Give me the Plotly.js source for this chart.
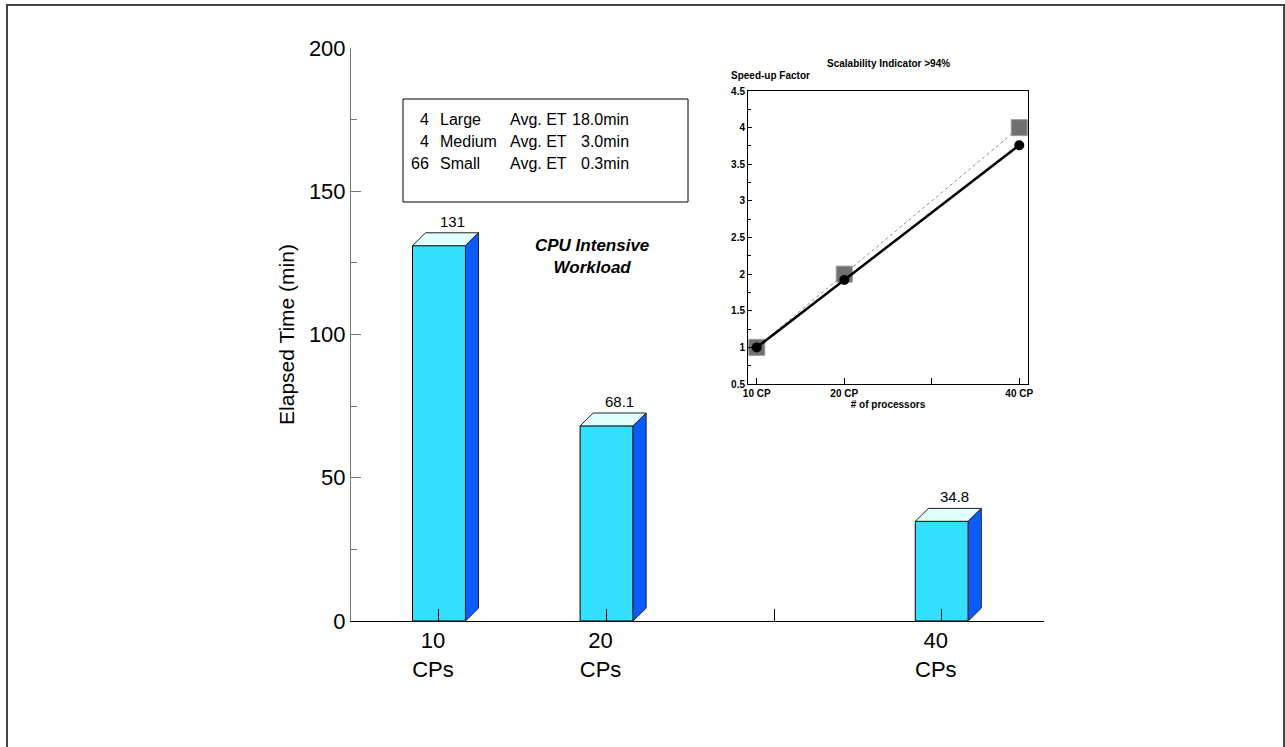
<!DOCTYPE html>
<html><head><meta charset="utf-8">
<script src="https://cdn.plot.ly/plotly-3.0.1.min.js"></script>
<style>body{margin:0;background:#fff}</style>
</head><body><div id="chart" style="width:1285px;height:747px"></div>
<script>
// ---- data ----
const processors = [10, 20, 40];
const categoryLabels = ['10<br>CPs', '20<br>CPs', '40<br>CPs'];
const elapsedTime = [131, 68.1, 34.8];
const elapsedLabels = ['131', '68.1', '34.8'];
const insetProcessors = [10, 20, 40];
const insetTickLabels = ['10 CP', '20 CP', '40 CP'];
const idealSpeedup = [1, 2, 4];
const actualSpeedup = [1, 1.92, 3.76];
const jobCounts = ['4', '4', '66'];
const jobSizes = ['Large', 'Medium', 'Small'];
const jobAvgET = ['18.0', '3.0', '0.3'];

// ---- geometry / style ----
const FONT = 'Liberation Sans, Arial, sans-serif';
const PL = 351, PR = 1044, PT = 48, PB = 621;
const px2x = p => (p - PL) / (PR - PL);
const px2y = p => (PB - p) / (PB - PT);
const W = 3.16, DX = 0.78, DY = 4.5;

const topX = [], topY = [], sideX = [], sideY = [];
processors.forEach((x, i) => {
  const v = elapsedTime[i], l = x - W / 2, r = x + W / 2;
  topX.push(l, r, r + DX, l + DX, l, null);
  topY.push(v, v, v + DY, v + DY, v, null);
  sideX.push(r, r + DX, r + DX, r, r, null);
  sideY.push(0, DY, v + DY, v, 0, null);
});

const allTicks = [10, 20, 30, 40];
const mainTickText = allTicks.map(t => { const k = processors.indexOf(t); return k >= 0 ? categoryLabels[k] : ''; });
const insetTickText = allTicks.map(t => { const k = insetProcessors.indexOf(t); return k >= 0 ? insetTickLabels[k] : ''; });

const traces = [
  { type: 'bar', x: processors, y: elapsedTime, width: W,
    marker: { color: '#33E0FF', line: { color: '#000', width: 1 } }, hoverinfo: 'y' },
  { type: 'scatter', x: topX, y: topY, mode: 'lines', fill: 'toself', fillcolor: '#E0FFFF',
    line: { color: '#222', width: 1 }, hoverinfo: 'skip' },
  { type: 'scatter', x: sideX, y: sideY, mode: 'lines', fill: 'toself', fillcolor: '#0A5CFF',
    line: { color: '#222', width: 1 }, hoverinfo: 'skip' },
  { type: 'scatter', x: insetProcessors, y: idealSpeedup, xaxis: 'x2', yaxis: 'y2', mode: 'lines+markers',
    line: { color: '#888', width: 1, dash: 'dot' },
    marker: { symbol: 'square', size: 16, color: '#707070', line: { color: '#9a9a9a', width: 1 } } },
  { type: 'scatter', x: insetProcessors, y: actualSpeedup, xaxis: 'x2', yaxis: 'y2', mode: 'lines+markers',
    line: { color: '#000', width: 2.5 },
    marker: { symbol: 'circle', size: 10, color: '#000' } }
];

const annotations = [];
processors.forEach((x, i) => {
  annotations.push({ x: x + DX, y: elapsedTime[i] + DY, xref: 'x', yref: 'y', text: elapsedLabels[i],
    showarrow: false, xanchor: 'center', yanchor: 'bottom', yshift: 1, font: { family: FONT, size: 15, color: '#000' } });
});
annotations.push({ x: px2x(592), y: px2y(256), xref: 'paper', yref: 'paper', text: 'CPU Intensive<br>Workload',
  showarrow: false, xanchor: 'center', yanchor: 'middle',
  font: { family: FONT, size: 17, color: '#000', weight: 'bold', style: 'italic' } });
const lineY = [119, 141, 163];
jobCounts.forEach((c, i) => {
  const f = { family: FONT, size: 16, color: '#000' };
  const y = px2y(lineY[i]);
  const base = { xref: 'paper', yref: 'paper', showarrow: false, yanchor: 'middle', font: f, y };
  annotations.push({ ...base, x: px2x(431), text: c, xanchor: 'right' });
  annotations.push({ ...base, x: px2x(438), text: jobSizes[i], xanchor: 'left' });
  annotations.push({ ...base, x: px2x(508), text: 'Avg. ET', xanchor: 'left' });
  annotations.push({ ...base, x: px2x(631), text: jobAvgET[i] + 'min', xanchor: 'right' });
});
const bold = { family: FONT, size: 10, color: '#000', weight: 'bold' };
annotations.push({ x: px2x(888), y: px2y(64), xref: 'paper', yref: 'paper', text: 'Scalability Indicator >94%',
  showarrow: false, xanchor: 'center', yanchor: 'middle', font: bold });
annotations.push({ x: px2x(729), y: px2y(75), xref: 'paper', yref: 'paper', text: 'Speed-up Factor',
  showarrow: false, xanchor: 'left', yanchor: 'middle', font: bold });

const layout = {
  width: 1285, height: 747,
  margin: { l: PL, r: 1285 - PR, t: PT, b: 747 - PB },
  paper_bgcolor: '#fff', plot_bgcolor: 'rgba(0,0,0,0)',
  showlegend: false,
  font: { family: FONT, color: '#000' },
  xaxis: { range: [4.75, 46.1], tickvals: allTicks, ticktext: mainTickText, ticks: 'inside', ticklen: 12,
    tickcolor: '#000', showline: true, linecolor: '#000', linewidth: 1, showgrid: false, zeroline: false,
    tickfont: { family: FONT, size: 22, color: '#000' }, ticklabelshift: -6 },
  yaxis: { range: [0, 200], tickvals: [0, 50, 100, 150, 200], ticks: 'inside', ticklen: 10, tickcolor: '#777',
    showline: true, linecolor: '#777', linewidth: 1, showgrid: false, zeroline: false,
    minor: { tickvals: [25, 75, 125, 175], ticks: 'inside', ticklen: 6, tickcolor: '#777' },
    tickfont: { family: FONT, size: 22, color: '#000' },
    title: { text: 'Elapsed Time (min)', font: { family: FONT, size: 21, color: '#000' }, standoff: 8 } },
  xaxis2: { domain: [px2x(748), px2x(1028)], anchor: 'y2', range: [9, 41], tickvals: allTicks, ticktext: insetTickText,
    ticks: 'inside', ticklen: 6, tickcolor: '#000', showline: true, mirror: true, linecolor: '#000', linewidth: 1,
    showgrid: false, zeroline: false, tickfont: bold,
    title: { text: '# of processors', font: bold, standoff: 2 } },
  yaxis2: { domain: [px2y(384), px2y(91)], anchor: 'x2', range: [0.5, 4.5], dtick: 0.5, tick0: 0.5,
    ticks: 'inside', ticklen: 4, tickcolor: '#000', showline: true, mirror: true, linecolor: '#000', linewidth: 1,
    showgrid: false, zeroline: false, tickfont: bold,
    minor: { dtick: 0.25, ticks: 'inside', ticklen: 3, tickcolor: '#000' } },
  shapes: [
    { type: 'rect', xref: 'paper', yref: 'paper', x0: px2x(403), x1: px2x(688), y0: px2y(202), y1: px2y(99),
      line: { color: '#000', width: 1 } },
    { type: 'rect', xref: 'paper', yref: 'paper', x0: px2x(7), x1: px2x(1284), y0: px2y(752), y1: px2y(5),
      line: { color: '#444', width: 2 } }
  ],
  annotations
};

Plotly.newPlot('chart', traces, layout, { displayModeBar: false, staticPlot: true });
</script>
</body></html>
